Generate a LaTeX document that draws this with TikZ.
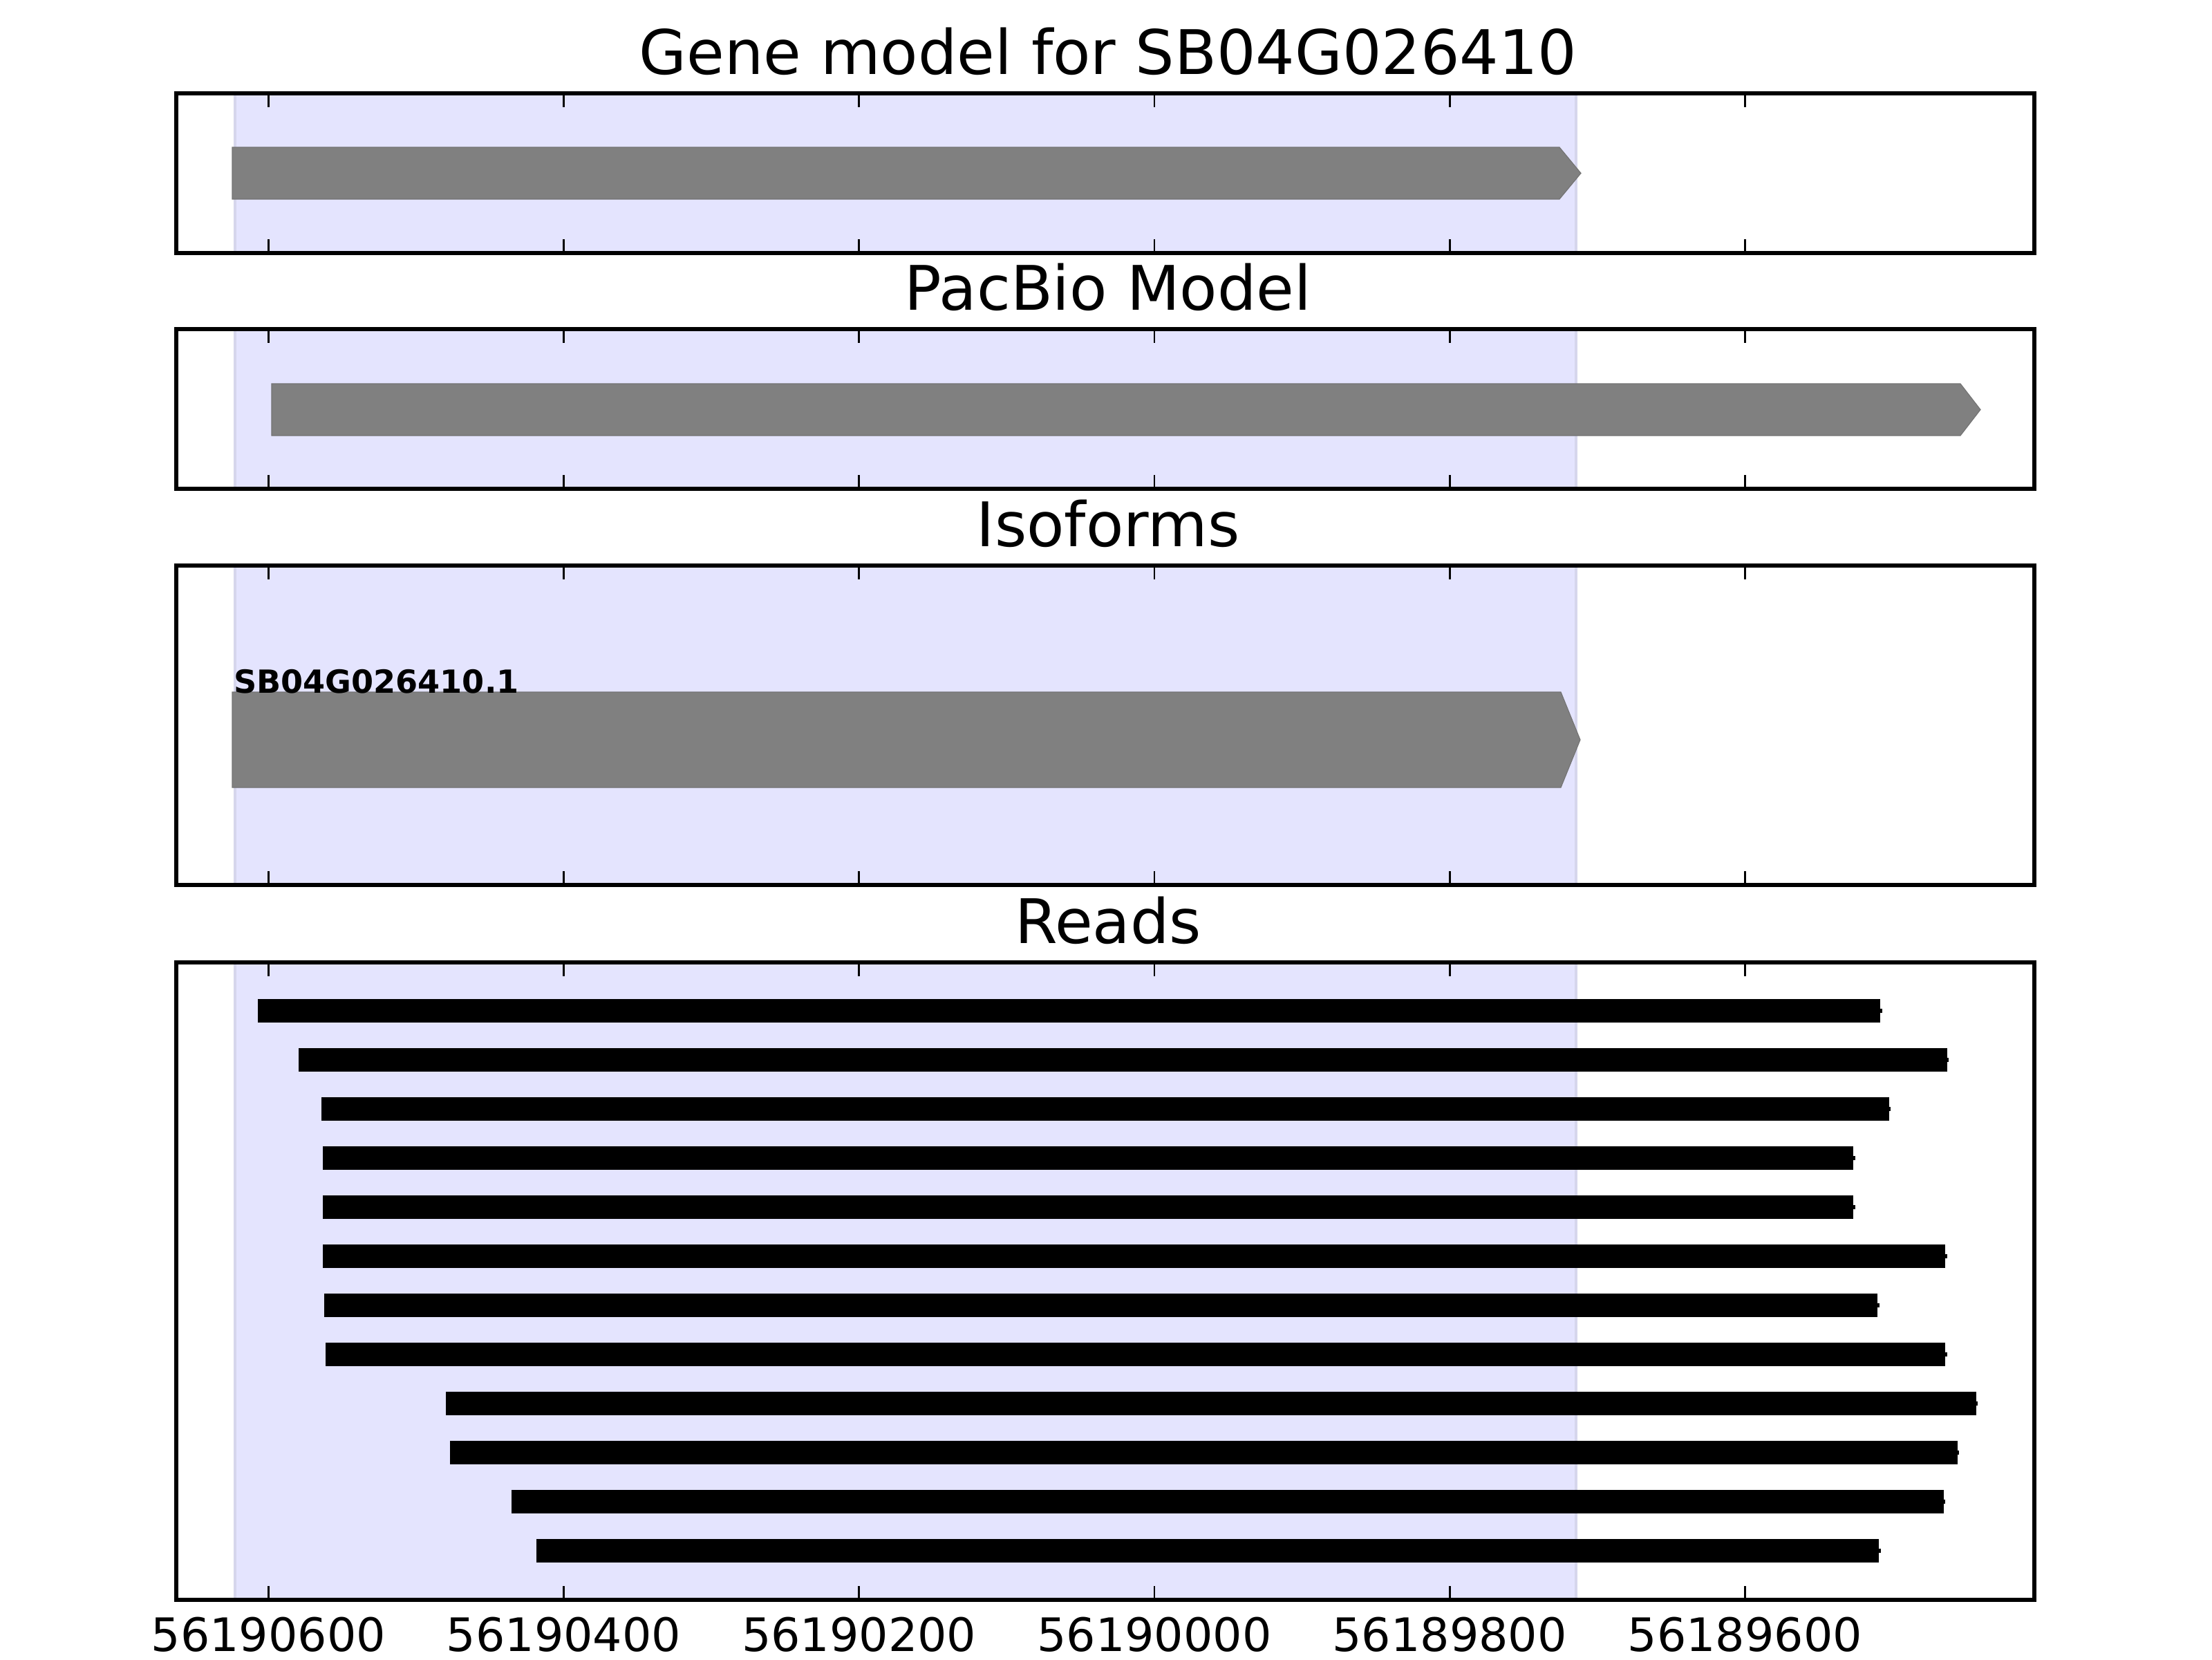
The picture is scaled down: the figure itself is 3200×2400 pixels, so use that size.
\documentclass[tikz,border=0pt]{standalone}
\usepackage{fontspec}
\setmainfont{DejaVu Sans}
\definecolor{spanfill}{RGB}{228,228,254}
\definecolor{spanedge}{RGB}{214,214,236}
\definecolor{genegray}{RGB}{128,128,128}
\tikzset{
  frame/.style={draw=black,line width=1pt},
  tickmark/.style={draw=black,line width=0.5pt},
  span/.style={fill=spanfill},
  spanline/.style={draw=spanedge,line width=0.6pt},
  genearrow/.style={fill=genegray,draw=genegray!90!black,line width=0.2pt},
  readbar/.style={fill=black},
  ttl/.style={anchor=base,inner sep=0pt,font=\fontsize{16}{19}\selectfont},
  ticklabel/.style={anchor=base,inner sep=0pt,font=\fontsize{12}{14}\selectfont},
  isolabel/.style={anchor=base west,inner sep=0pt,font=\fontsize{8.3}{10}\selectfont\bfseries}
}
\begin{document}
\begin{tikzpicture}[x=0.18pt,y=-0.18pt]
\useasboundingbox (0,0) rectangle (3200,2400);
% shaded spans
\foreach \t/\b in {135/366,476/707,818/1280,1392/2314}{
  \fill[span] (340,\t) rectangle (2280,\b);
  \draw[spanline] (340,\t) -- (340,\b);
  \draw[spanline] (2280,\t) -- (2280,\b);
}
% gene model
\fill[genearrow] (336,213) -- (2256,213) -- (2287,250.5) -- (2256,288) -- (336,288) -- cycle;
% pacbio model
\fill[genearrow] (393,555) -- (2836,555) -- (2865,592.5) -- (2836,630) -- (393,630) -- cycle;
% isoform
\fill[genearrow] (336,1001) -- (2258,1001) -- (2286,1070) -- (2258,1139) -- (336,1139) -- cycle;
\node[isolabel] (iso) at (337,1002) {SB04G026410.1};
% reads
\foreach \s/\e [count=\i from 0] in {373/2720.4,432/2816.7,464.5/2732.7,467/2681,467/2681,467.3/2814.2,469.4/2716.3,471.4/2814.2,644.9/2858.7,651/2831.6,740/2811.7,776/2718.4}{
  \pgfmathsetmacro{\yc}{1462.3+\i*70.95}
  \fill[readbar] (\s,\yc-17) rectangle (\e,\yc+17);
  \fill[readbar] (\e,\yc-3) rectangle (\e+2.5,\yc+3);
}
% ticks
\foreach \t/\b in {135/366,476/707,818/1280,1392/2314}{
  \foreach \x in {388.3,815.5,1242.7,1669.9,2097.1,2524.3}{
    \draw[tickmark] (\x,\t) -- ++(0,20);
    \draw[tickmark] (\x,\b) -- ++(0,-20);
  }
}
% frames
\draw[frame] (255,135) rectangle (2943,366);
\draw[frame] (255,476) rectangle (2943,707);
\draw[frame] (255,818) rectangle (2943,1280);
\draw[frame] (255,1392) rectangle (2943,2314);
% titles
\node[ttl] (t1) at (1603,107) {Gene model for SB04G026410};
\node[ttl] (t2) at (1603,448) {PacBio Model};
\node[ttl] (t3) at (1603,790) {Isoforms};
\node[ttl] (t4) at (1603,1364) {Reads};
% tick labels
\node[ticklabel] (l1) at (388.3,2388) {56190600};
\node[ticklabel] (l2) at (815.5,2388) {56190400};
\node[ticklabel] (l3) at (1242.7,2388) {56190200};
\node[ticklabel] (l4) at (1669.9,2388) {56190000};
\node[ticklabel] (l5) at (2097.1,2388) {56189800};
\node[ticklabel] (l6) at (2524.3,2388) {56189600};
\end{tikzpicture}
\end{document}
